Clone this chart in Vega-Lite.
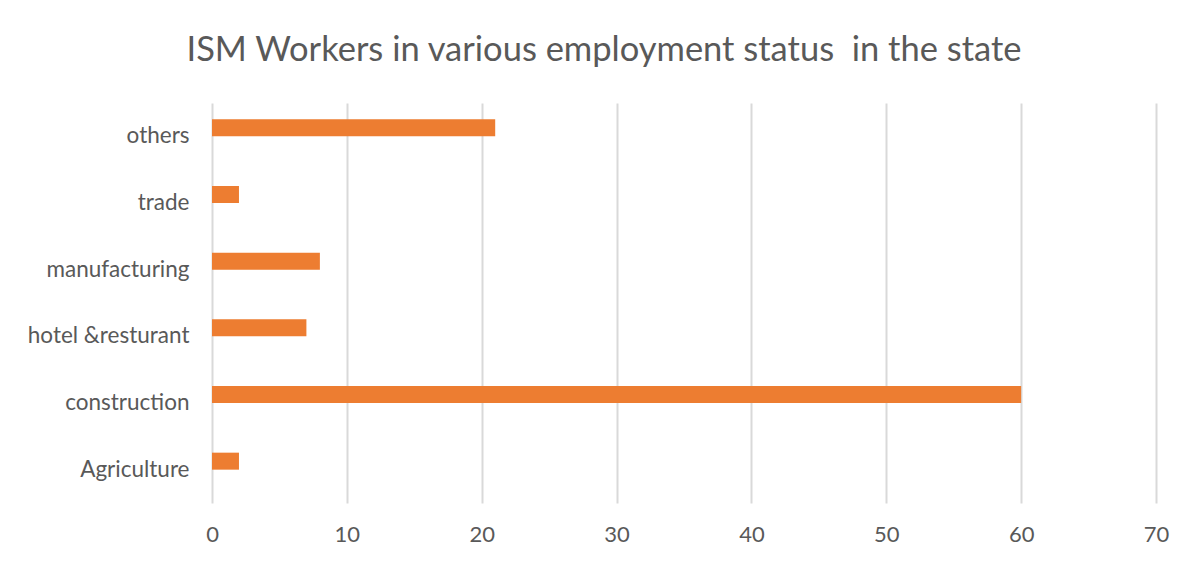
{
  "$schema": "https://vega.github.io/schema/vega-lite/v6.json",
  "autosize": "none",
  "padding": {"left": 212, "top": 103, "right": 35, "bottom": 59},
  "width": 944,
  "height": 400,
  "background": "white",
  "title": {
    "text": "ISM Workers in various employment status \u00a0in the state",
    "anchor": "middle",
    "frame": "group",
    "dx": -80,
    "offset": 35,
    "font": "Lato",
    "fontSize": 34.5,
    "fontWeight": "normal",
    "color": "#595959"
  },
  "data": {
    "values": [
      {"sector": "others", "workers": 21},
      {"sector": "trade", "workers": 2},
      {"sector": "manufacturing", "workers": 8},
      {"sector": "hotel &resturant", "workers": 7},
      {"sector": "construction", "workers": 60},
      {"sector": "Agriculture", "workers": 2}
    ]
  },
  "mark": {"type": "bar", "color": "#ED7D31", "height": 17, "yOffset": -8.5},
  "encoding": {
    "y": {
      "field": "sector",
      "type": "nominal",
      "sort": ["others", "trade", "manufacturing", "hotel &resturant", "construction", "Agriculture"],
      "scale": {"paddingInner": 0, "paddingOuter": 0},
      "axis": {
        "title": null,
        "ticks": false,
        "domain": false,
        "grid": false,
        "labelPadding": 23,
        "labelFont": "Lato",
        "labelFontSize": 22.5,
        "labelColor": "#595959"
      }
    },
    "x": {
      "field": "workers",
      "type": "quantitative",
      "scale": {"domain": [0, 70], "nice": false},
      "axis": {
        "title": null,
        "values": [0, 10, 20, 30, 40, 50, 60, 70],
        "ticks": false,
        "domain": false,
        "grid": true,
        "gridColor": "#d9d9d9",
        "gridWidth": 2,
        "labelFlush": false,
        "labelPadding": 21,
        "labelFont": "Lato",
        "labelFontSize": 22,
        "labelColor": "#595959"
      }
    }
  },
  "config": {"view": {"stroke": null}}
}
